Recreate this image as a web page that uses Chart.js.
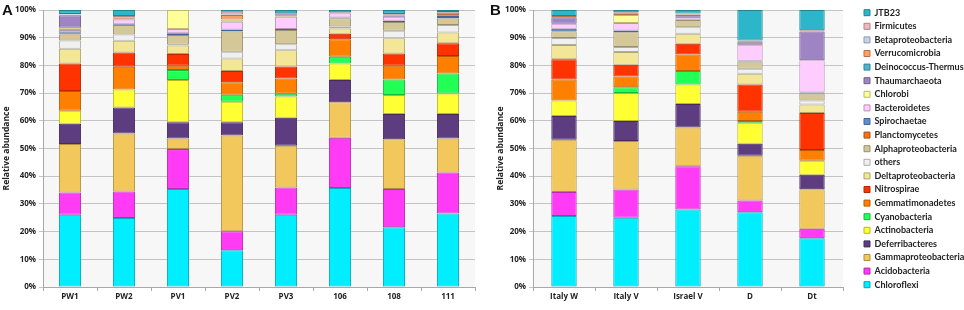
<!DOCTYPE html>
<html><head><meta charset="utf-8">
<script src="https://cdn.jsdelivr.net/npm/chart.js@4.4.1/dist/chart.umd.min.js"></script>
<style>
html,body{margin:0;padding:0;background:#fff;}
#wrap{position:relative;width:964px;height:310px;overflow:hidden;background:#fff;}
canvas{position:absolute;top:0;}
#ca{left:0;} #cb{left:485px;}
</style></head><body>
<div id="wrap"><canvas id="ca" width="485" height="310"></canvas><canvas id="cb" width="479" height="310"></canvas></div>
<script>
// Taxa, stacked from bottom to top
const taxa = ["Chloroflexi","Acidobacteria","Gammaproteobacteria","Deferribacteres","Actinobacteria","Cyanobacteria","Gemmatimonadetes","Nitrospirae","Deltaproteobacteria","others","Alphaproteobacteria","Planctomycetes","Spirochaetae","Bacteroidetes","Chlorobi","Thaumarchaeota","Deinococcus-Thermus","Verrucomicrobia","Betaproteobacteria","Firmicutes","JTB23"];
const fills = ["#00EEFF","#FF3BF5","#F2C75B","#5E3C80","#FFFF33","#22FF55","#FF8000","#FF3300","#F3E797","#F0F0F0","#D4C898","#F07020","#5B8ED6","#FFCCFF","#FFFF99","#9E84C2","#4BB4D0","#FFA060","#C5D3F0","#F2B8B8","#2BB7C9"];

const categoriesA = ["PW1","PW2","PV1","PV2","PV3","106","108","111"];
const categoriesB = ["Italy W","Italy V","Israel V","D","Dt"];
const yTicks = [0,10,20,30,40,50,60,70,80,90,100];

// Relative abundance (%) per sample, in taxa order
const pw1 = [26.1,8.0,17.5,7.3,4.7,0,7.2,9.9,5.3,3.0,2.2,0.2,0.6,0.8,0.8,4.5,0.2,0.1,0.1,0.1,1.4];
const pw2 = [24.9,9.6,20.9,9.4,6.5,0,8.2,5.2,4.2,2.3,3.4,0,0.3,1.7,0,0.2,0,0.5,0,0.5,2.2];
const pv1 = [35.4,14.4,3.8,5.9,15.2,3.6,1.6,4.2,3.1,0.3,3.5,0,0.6,1.5,6.9,0,0,0,0,0,0];
const pv2 = [13.3,6.8,34.6,4.8,7.4,2.5,4.5,4.1,4.5,2.4,7.3,0,0.8,2.8,0.8,0,0,1.6,0.2,1.0,0.6];
const pv3 = [26.1,9.8,15.1,10.1,7.7,1.0,5.5,4.3,5.9,2.1,5.2,0,0.3,4.5,0.6,0.3,0,0.3,0,0,1.2];
const s106 = [35.7,18.2,12.8,8.0,6.0,2.4,6.3,2.0,1.9,0.7,3.0,0,0.3,1.5,0,0,0,0,0,0.4,0.8];
const s108 = [21.6,13.8,17.9,9.2,6.8,5.6,5.0,4.4,5.5,2.7,3.2,0,0.4,1.5,0,0.4,0,0.3,0,0.3,1.4];
const s111 = [26.5,14.8,12.3,8.9,7.4,7.2,6.3,4.6,3.9,2.7,2.3,0.6,0.3,0.4,0,0,0,0.8,0,0.3,0.7];
const italyW = [25.6,8.7,18.9,8.5,5.6,0,7.6,7.3,5.2,2.5,2.4,0,0.9,1.8,0,2.4,0,0.4,0,0,2.2];
const italyV = [25.0,10.2,17.5,7.2,10.1,2.1,3.9,4.2,4.6,1.8,5.4,0,0.6,2.7,2.9,0,0,0.6,0,0.4,0.8];
const israelV = [28.0,15.6,14.0,8.5,7.0,4.9,5.9,3.9,3.6,2.4,2.6,0,0.2,0.9,0,0.2,0,0.7,0,0.3,1.3];
const sD = [27.0,4.2,16.2,4.3,7.6,0.6,3.4,9.8,3.9,1.8,2.6,0,0.3,5.8,0,0.9,0,0.3,0,0.3,11.0];
const sDt = [17.6,3.4,14.3,5.2,5.1,0,3.9,13.3,3.1,1.4,2.6,0,0.3,11.7,0,10.3,0,0,0,0.5,7.3];

const samplesA = [pw1,pw2,pv1,pv2,pv3,s106,s108,s111];
const samplesB = [italyW,italyV,israelV,sD,sDt];

function darken(hex, f){
  const n = parseInt(hex.slice(1),16);
  const r = Math.round(((n>>16)&255)*f), g = Math.round(((n>>8)&255)*f), b = Math.round((n&255)*f);
  return `rgb(${r},${g},${b})`;
}
function buildDatasets(samples){
  return taxa.map((name,i)=>({
    label:name,
    data:samples.map(s=> s[i]===0 ? null : s[i]),
    backgroundColor:fills[i],
    borderColor:darken(fills[i],0.72),
    borderWidth:1,
    borderSkipped:false,
    categoryPercentage:1,
    barPercentage:0.41
  }));
}

const FONT = '"Open Sans", "Noto Sans", sans-serif';
const TXT = '#222';

const panelPlugin = {
  id:'panel',
  beforeDraw(chart, args, o){
    const {ctx, chartArea:a} = chart;
    ctx.save();
    ctx.fillStyle = '#f7f7f7';
    ctx.fillRect(a.left, a.top, a.right-a.left, a.bottom-a.top);
    ctx.restore();
  },
  afterDraw(chart, args, o){
    const ctx = chart.ctx;
    ctx.save();
    ctx.fillStyle = '#111';
    ctx.font = 'bold 15px "Liberation Sans", Arial, sans-serif';
    ctx.textBaseline = 'alphabetic';
    ctx.textAlign = 'left';
    ctx.fillText(o.letter, o.x, o.y);
    ctx.restore();
  }
};

function makeOptions(cfg){
  return {
    responsive:false,
    animation:false,
    layout:{padding:cfg.padding},
    plugins:{
      legend:cfg.legend,
      title:cfg.title || {display:false},
      tooltip:{enabled:false},
      panel:{letter:cfg.letter, x:cfg.lx, y:cfg.ly}
    },
    scales:Object.assign({
      x:{
        stacked:true,
        grid:{display:true, drawOnChartArea:false, drawTicks:true, tickLength:4, color:'#a8a8a8', offset:true},
        border:{color:'#a8a8a8'},
        ticks:{font:{family:FONT, size:8, weight:'bold'}, color:TXT, padding:1, autoSkip:false, maxRotation:0},
        afterFit(s){ s.height = cfg.xh; }
      },
      y:{
        stacked:true, min:0, max:100,
        afterBuildTicks(s){ s.ticks = yTicks.map(v=>({value:v})); },
        ticks:{font:{family:FONT, size:8, weight:'bold'}, color:TXT, padding:3, callback:v=>v+'%'},
        grid:{color:'#c4c4c4', tickLength:4},
        border:{color:'#a8a8a8'},
        title:{display:true, text:'Relative abundance', font:{family:FONT, size:8.5, weight:'bold'}, color:TXT, padding:{top:cfg.tp, bottom:0}},
        afterFit(s){ s.width = cfg.yw; }
      }
    }, cfg.extraScales || {})
  };
}

new Chart(document.getElementById('ca'), {
  type:'bar',
  data:{labels:categoriesA, datasets:buildDatasets(samplesA)},
  options:makeOptions({padding:{top:10,right:10,bottom:0,left:0}, xh:23, yw:43, tp:1.2, letter:'A', lx:2, ly:15,
    legend:{display:false}}),
  plugins:[panelPlugin]
});

new Chart(document.getElementById('cb'), {
  type:'bar',
  data:{labels:categoriesB, datasets:buildDatasets(samplesB)},
  options:makeOptions({padding:{top:3.6,right:0,bottom:0,left:0}, xh:23, yw:48, tp:10.8, letter:'B', lx:5, ly:15,
    title:{display:true, text:'', fullSize:false, padding:0, font:{size:6.4, lineHeight:1}},
    legend:{display:true, position:'right', reverse:true, align:'start', maxWidth:104.6,
      labels:{boxWidth:6, boxHeight:6, padding:4.6, color:TXT, font:{family:'Lato, "Open Sans", sans-serif', size:9, weight:'bold'}}},
    extraScales:{
      yR:{position:'right', display:true, min:0, max:100, grid:{display:false, drawTicks:false}, border:{display:false}, ticks:{display:false}, afterFit(s){ s.width = 16.4; }}
    }}),
  plugins:[panelPlugin]
});
</script>
</body></html>
